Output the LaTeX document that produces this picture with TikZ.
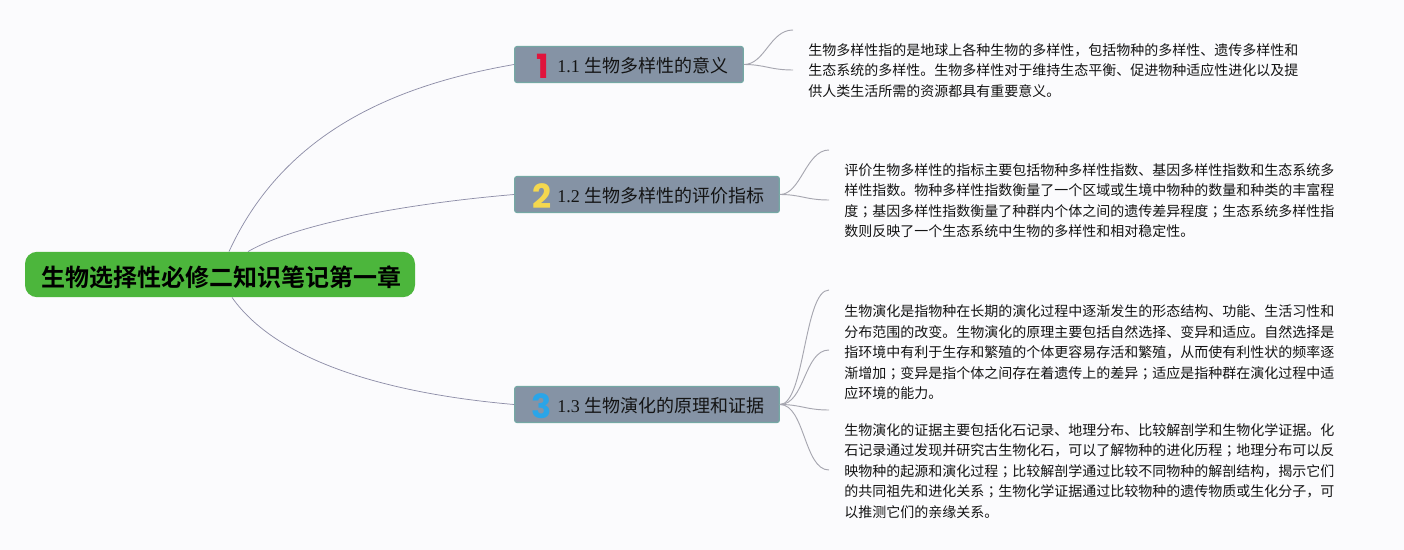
\documentclass[tikz,border=0pt]{standalone}
\usepackage{fontspec}
\setmainfont{Liberation Serif}
\newfontfamily\cjk{Noto Sans CJK SC}
\newfontfamily\cjkb{Noto Sans CJK SC Bold}
\newfontfamily\cjktc{Noto Sans CJK TC}
\newfontfamily\numf{Poppins Bold}
\newcommand{\semi}{{\cjktc ；}}
\definecolor{bgc}{HTML}{FBFBFD}
\definecolor{rootc}{HTML}{4CB63C}
\definecolor{branchc}{HTML}{8593A5}
\definecolor{branchd}{HTML}{74A8A4}
\definecolor{linec}{HTML}{8E8EA8}
\definecolor{notec}{HTML}{A6A6B0}
\definecolor{txt}{HTML}{141414}
\definecolor{numa}{HTML}{E0143C}
\definecolor{numb}{HTML}{F5D84E}
\definecolor{numc}{HTML}{2AA5E8}
\tikzset{
 px/.style={x=0.75pt,y=-0.75pt},
 rootbox/.style={fill=rootc,rounded corners=9pt,minimum width=292.5pt,minimum height=34pt,inner sep=0pt},
 roottext/.style={inner sep=0pt,font=\cjkb\fontsize{18}{22}\selectfont,text=black},
 branchbox/.style={fill=branchc,draw=branchd,line width=0.9pt,rounded corners=1.8pt,minimum height=27pt,inner sep=0pt},
 branchtext/.style={anchor=base west,inner sep=0pt,font=\fontsize{13.5}{16}\selectfont,text=txt},
 notetext/.style={anchor=north west,inner sep=0pt,align=left,font=\cjk\fontsize{10.5}{15.35}\selectfont,text=txt},
 mainlink/.style={draw=linec,line width=0.55pt},
 notelink/.style={draw=notec,line width=0.7pt},
 numtext/.style={inner sep=0pt,font=\numf\fontsize{25}{25}\selectfont},
}
\begin{document}
\begin{tikzpicture}[px]
\useasboundingbox[fill=bgc] (0,0) rectangle (1404,550);
\node[rootbox] (root) at (220,274.5) {};
\node[roottext] (roott) at (221,277) {生物选择性必修二知识笔记第一章};
\node[branchbox,minimum width=171.5pt] (b1) at (629,64.5) {};
\node[branchbox,minimum width=198.5pt] (b2) at (647,194.5) {};
\node[branchbox,minimum width=198.5pt] (b3) at (647,404.5) {};
\node[numtext,text=numa] (n1) at (543,66) {1};
\node[numtext,text=numb] (n2) at (542,196) {2};
\node[numtext,text=numc] (n3) at (542,406) {3};
\node[branchtext] (t1) at (557,72.5) {1.1 {\cjk 生物多样性的意义}};
\node[branchtext] (t2) at (557,202.5) {1.2 {\cjk 生物多样性的评价指标}};
\node[branchtext] (t3) at (557,412.5) {1.3 {\cjk 生物演化的原理和证据}};
\node[notetext] (p1) at (808,43) {生物多样性指的是地球上各种生物的多样性，包括物种的多样性、遗传多样性和\\生态系统的多样性。生物多样性对于维持生态平衡、促进物种适应性进化以及提\\供人类生活所需的资源都具有重要意义。};
\node[notetext] (p2) at (844,163) {评价生物多样性的指标主要包括物种多样性指数、基因多样性指数和生态系统多\\样性指数。物种多样性指数衡量了一个区域或生境中物种的数量和种类的丰富程\\度\semi 基因多样性指数衡量了种群内个体之间的遗传差异程度\semi 生态系统多样性指\\数则反映了一个生态系统中生物的多样性和相对稳定性。};
\node[notetext] (p3) at (844,304.5) {生物演化是指物种在长期的演化过程中逐渐发生的形态结构、功能、生活习性和\\分布范围的改变。生物演化的原理主要包括自然选择、变异和适应。自然选择是\\指环境中有利于生存和繁殖的个体更容易存活和繁殖，从而使有利性状的频率逐\\渐增加\semi 变异是指个体之间存在着遗传上的差异\semi 适应是指种群在演化过程中适\\应环境的能力。};
\node[notetext] (p4) at (844,423) {生物演化的证据主要包括化石记录、地理分布、比较解剖学和生物化学证据。化\\石记录通过发现并研究古生物化石，可以了解物种的进化历程\semi 地理分布可以反\\映物种的起源和演化过程\semi 比较解剖学通过比较不同物种的解剖结构，揭示它们\\的共同祖先和进化关系\semi 生物化学证据通过比较物种的遗传物质或生化分子，可\\以推测它们的亲缘关系。};
\coordinate (e1a) at (793,30);
\coordinate (e1b) at (793,70);
\coordinate (e2a) at (829,150);
\coordinate (e2b) at (829,200);
\coordinate (e3a) at (829,290);
\coordinate (e3b) at (829,350);
\coordinate (e3c) at (829,410);
\coordinate (e3d) at (829,470);
\path[mainlink] ([xshift=6.75pt]root.north) .. controls +(56,-122) and +(-115,20) .. (b1.west);
\path[mainlink] ([xshift=21pt]root.north) .. controls +(52,-30) and +(-95,8) .. (b2.west);
\path[mainlink] ([xshift=9pt]root.south) .. controls +(48,68) and +(-115,-10) .. (b3.west);
\path[notelink] (b1.east) .. controls +(21,0) and +(-23,0) .. (e1a);
\path[notelink] (b1.east) .. controls +(21,0) and +(-23,0) .. (e1b);
\path[notelink] (b2.east) .. controls +(21,0) and +(-23,0) .. (e2a);
\path[notelink] (b2.east) .. controls +(21,0) and +(-23,0) .. (e2b);
\path[notelink] (b3.east) .. controls +(25,0) and +(-25,0) .. (e3a);
\path[notelink] (b3.east) .. controls +(25,0) and +(-25,0) .. (e3b);
\path[notelink] (b3.east) .. controls +(21,0) and +(-23,0) .. (e3c);
\path[notelink] (b3.east) .. controls +(25,0) and +(-25,0) .. (e3d);
\end{tikzpicture}
\end{document}
